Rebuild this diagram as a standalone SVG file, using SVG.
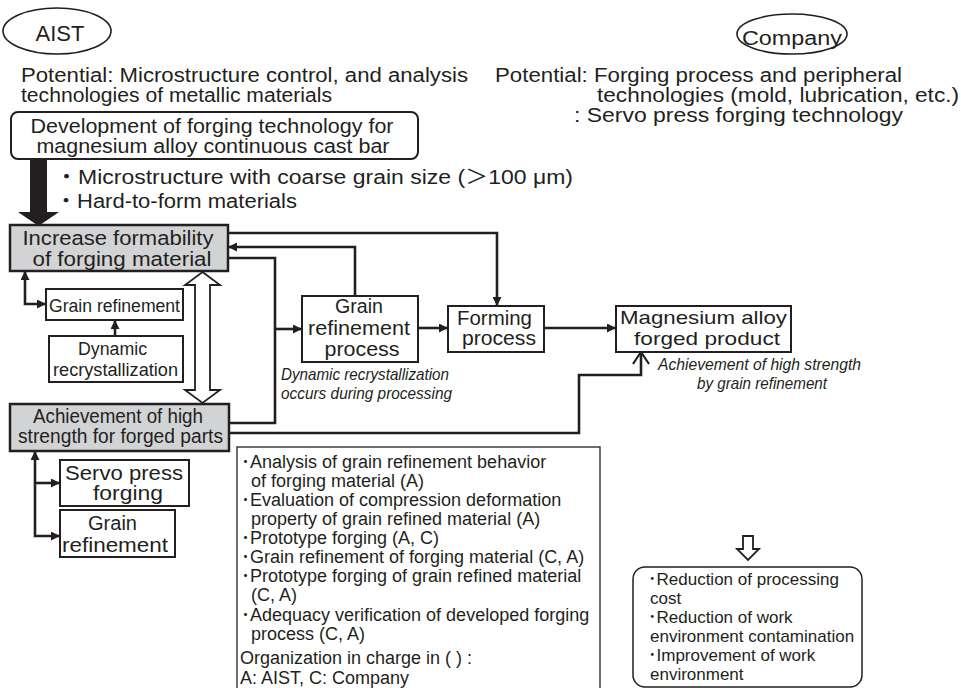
<svg xmlns="http://www.w3.org/2000/svg" width="961" height="688" viewBox="0 0 961 688">
<style>
.t{font-family:'Liberation Sans','Noto Sans CJK JP',sans-serif;fill:#231f20;}
.m{text-anchor:middle;}
.it{font-style:italic;}
.box{fill:#fff;stroke:#231f20;stroke-width:2;}
.gbox{fill:#d2d3d5;stroke:#231f20;stroke-width:2.5;}
.thin{fill:#fff;stroke:#231f20;stroke-width:1.3;}
.conn{fill:none;stroke:#231f20;stroke-width:2.6;}
.hollow{fill:#fff;stroke:#231f20;stroke-width:1.8;stroke-linejoin:miter;}
</style>
<defs>
<marker id="ah" viewBox="0 0 10 10" refX="10" refY="5" markerWidth="9" markerHeight="9" markerUnits="userSpaceOnUse" orient="auto-start-reverse"><path d="M0,0 L10,5 L0,10 z" fill="#231f20"/></marker>
<marker id="chev" viewBox="0 0 14 18" refX="13" refY="9" markerWidth="14" markerHeight="18" markerUnits="userSpaceOnUse" orient="auto"><path d="M1,1 L13,9 L1,17" fill="none" stroke="#231f20" stroke-width="2.2"/></marker>
</defs>
<rect width="961" height="688" fill="#fff"/>

<g id="aist">
<ellipse cx="57" cy="31" rx="54" ry="23" fill="none" stroke="#231f20" stroke-width="1.6"/>
<text class="t m" x="60" y="41" font-size="22">AIST</text>
</g>
<g id="company">
<ellipse cx="792" cy="34" rx="55" ry="20" fill="none" stroke="#231f20" stroke-width="1.6"/>
<text class="t m" x="792" y="45" font-size="20" textLength="100" lengthAdjust="spacingAndGlyphs">Company</text>
</g>
<g id="aist-potential">
<text class="t" x="21" y="82" font-size="20" textLength="447" lengthAdjust="spacingAndGlyphs">Potential: Microstructure control, and analysis</text>
<text class="t" x="21" y="102" font-size="20" textLength="311" lengthAdjust="spacingAndGlyphs">technologies of metallic materials</text>
</g>
<g id="company-potential">
<text class="t" x="495" y="82" font-size="20" textLength="407" lengthAdjust="spacingAndGlyphs">Potential: Forging process and peripheral</text>
<text class="t" x="597" y="102" font-size="20" textLength="362" lengthAdjust="spacingAndGlyphs">technologies (mold, lubrication, etc.)</text>
<text class="t" x="574" y="122" font-size="20" textLength="329" lengthAdjust="spacingAndGlyphs">: Servo press forging technology</text>
</g>

<g id="development">
<rect x="11" y="112" width="407" height="47" rx="7" class="box"/>
<text class="t m" x="212" y="133" font-size="20" textLength="363" lengthAdjust="spacingAndGlyphs">Development of forging technology for</text>
<text class="t m" x="213" y="153" font-size="20" textLength="353" lengthAdjust="spacingAndGlyphs">magnesium alloy continuous cast bar</text>
</g>
<g id="big-arrow">
<polygon points="30,159 47,159 47,212 59,212 38.5,226 18,212 30,212" fill="#231f20"/>
</g>
<g id="issues">
<text class="t" x="55" y="184" font-size="20" textLength="518" lengthAdjust="spacingAndGlyphs">・Microstructure with coarse grain size (＞100 μm)</text>
<text class="t" x="55" y="208" font-size="20" textLength="242" lengthAdjust="spacingAndGlyphs">・Hard-to-form materials</text>
</g>

<g id="increase-formability">
<rect x="10" y="225" width="218" height="46" class="gbox"/>
<text class="t m" x="118" y="245" font-size="20" textLength="191" lengthAdjust="spacingAndGlyphs">Increase formability</text>
<text class="t m" x="122" y="266" font-size="20" textLength="179" lengthAdjust="spacingAndGlyphs">of forging material</text>
</g>
<g id="grain-refinement-1">
<rect x="46" y="289" width="137" height="31" class="box"/>
<text class="t m" x="114.5" y="312" font-size="18" textLength="131" lengthAdjust="spacingAndGlyphs">Grain refinement</text>
</g>
<g id="dynamic-recrystallization">
<rect x="49" y="336" width="134" height="46" class="box"/>
<text class="t m" x="112.5" y="355" font-size="18" textLength="69" lengthAdjust="spacingAndGlyphs">Dynamic</text>
<text class="t m" x="115.5" y="376" font-size="18" textLength="125" lengthAdjust="spacingAndGlyphs">recrystallization</text>
</g>
<g id="double-arrow">
<polygon class="hollow" points="202.5,272 220,285 210,285 210,390 220,390 202.5,403 185,390 195,390 195,285 185,285"/>
</g>
<g id="achievement">
<rect x="10" y="404" width="219" height="47" class="gbox"/>
<text class="t m" x="118" y="423" font-size="20" textLength="170" lengthAdjust="spacingAndGlyphs">Achievement of high</text>
<text class="t m" x="120.5" y="443" font-size="20" textLength="205" lengthAdjust="spacingAndGlyphs">strength for forged parts</text>
</g>
<g id="servo-press">
<rect x="60" y="460" width="129" height="46" class="box"/>
<text class="t m" x="124" y="480" font-size="20" textLength="118" lengthAdjust="spacingAndGlyphs">Servo press</text>
<text class="t m" x="128" y="500" font-size="20" textLength="70" lengthAdjust="spacingAndGlyphs">forging</text>
</g>
<g id="grain-refinement-2">
<rect x="60" y="510" width="115" height="47" class="box"/>
<text class="t m" x="112.5" y="530" font-size="20" textLength="49" lengthAdjust="spacingAndGlyphs">Grain</text>
<text class="t m" x="115" y="552" font-size="20" textLength="106" lengthAdjust="spacingAndGlyphs">refinement</text>
</g>
<g id="grain-refinement-process">
<rect x="302" y="296" width="116" height="66" class="box"/>
<text class="t m" x="359" y="313" font-size="20" textLength="48" lengthAdjust="spacingAndGlyphs">Grain</text>
<text class="t m" x="359" y="335" font-size="20" textLength="102" lengthAdjust="spacingAndGlyphs">refinement</text>
<text class="t m" x="362" y="356" font-size="20" textLength="75" lengthAdjust="spacingAndGlyphs">process</text>
<text class="t it" x="281" y="380" font-size="17" textLength="168" lengthAdjust="spacingAndGlyphs">Dynamic recrystallization</text>
<text class="t it" x="281" y="399" font-size="17" textLength="171" lengthAdjust="spacingAndGlyphs">occurs during processing</text>
</g>
<g id="forming-process">
<rect x="448" y="306" width="96" height="46" class="box"/>
<text class="t m" x="494.5" y="325" font-size="20" textLength="75" lengthAdjust="spacingAndGlyphs">Forming</text>
<text class="t m" x="499" y="345" font-size="20" textLength="74" lengthAdjust="spacingAndGlyphs">process</text>
</g>
<g id="magnesium-product">
<rect x="616" y="306" width="175" height="46" class="box"/>
<text class="t m" x="703.5" y="324" font-size="19" textLength="167" lengthAdjust="spacingAndGlyphs">Magnesium alloy</text>
<text class="t m" x="707" y="345" font-size="19" textLength="146" lengthAdjust="spacingAndGlyphs">forged product</text>
<text class="t it m" x="759.5" y="370" font-size="17" textLength="203" lengthAdjust="spacingAndGlyphs">Achievement of high strength</text>
<text class="t it m" x="762" y="389" font-size="17" textLength="130" lengthAdjust="spacingAndGlyphs">by grain refinement</text>
</g>

<g id="connectors">
<path class="conn" d="M228,233 H497 V306" marker-end="url(#ah)"/>
<path class="conn" d="M355,296 V247 H228" marker-end="url(#ah)"/>
<path class="conn" d="M228,258 H275 V423 H229"/>
<path class="conn" d="M275,329 H302" marker-end="url(#ah)"/>
<path class="conn" d="M418,328 H448" marker-end="url(#ah)"/>
<path class="conn" d="M544,328 H616" marker-end="url(#ah)"/>
<path class="conn" d="M229,433 H579 V375 H641 V352" marker-end="url(#chev)"/>
<path class="conn" d="M46,304 H25 V271" marker-start="url(#ah)" marker-end="url(#ah)"/>
<path class="conn" d="M115,336 V320" marker-end="url(#ah)"/>
<path class="conn" d="M60,536 H35 V451" marker-start="url(#ah)" marker-end="url(#ah)"/>
<path class="conn" d="M35,483 H60" marker-end="url(#ah)"/>
</g>

<g id="activities">
<rect x="237" y="447" width="363" height="250" class="thin"/>
<text class="t" font-size="18">
<tspan x="241" y="468">･Analysis of grain refinement behavior</tspan>
<tspan x="251" y="487">of forging material (A)</tspan>
<tspan x="241" y="506">･Evaluation of compression deformation</tspan>
<tspan x="251" y="525">property of grain refined material (A)</tspan>
<tspan x="241" y="544">･Prototype forging (A, C)</tspan>
<tspan x="241" y="563">･Grain refinement of forging material (C, A)</tspan>
<tspan x="241" y="582">･Prototype forging of grain refined material</tspan>
<tspan x="251" y="601">(C, A)</tspan>
<tspan x="241" y="621">･Adequacy verification of developed forging</tspan>
<tspan x="251" y="640">process (C, A)</tspan>
<tspan x="240" y="664">Organization in charge in ( ) :</tspan>
<tspan x="240" y="684">A: AIST, C: Company</tspan>
</text>
</g>

<g id="result-arrow">
<polygon class="hollow" points="743,536 753,536 753,549 759,549 748,560 737,549 743,549"/>
</g>
<g id="effects">
<rect x="633" y="567" width="229" height="120" rx="12" fill="#fff" stroke="#231f20" stroke-width="1.5"/>
<text class="t" font-size="17">
<tspan x="648" y="585">･Reduction of processing</tspan>
<tspan x="650" y="604">cost</tspan>
<tspan x="648" y="623">･Reduction of work</tspan>
<tspan x="650" y="642">environment contamination</tspan>
<tspan x="648" y="661">･Improvement of work</tspan>
<tspan x="650" y="680">environment</tspan>
</text>
</g>
</svg>
